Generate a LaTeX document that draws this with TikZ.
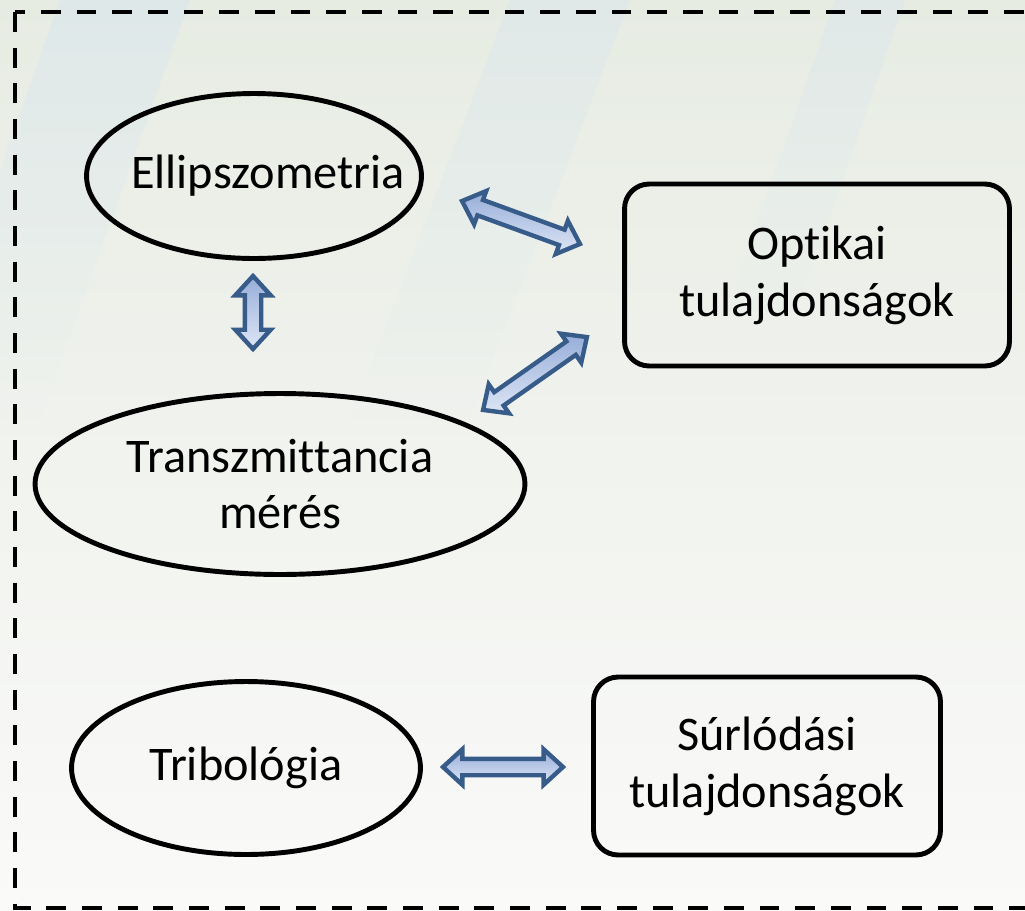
\documentclass[tikz,border=0pt]{standalone}
\usepackage{fontspec}
\setmainfont{Carlito}[Ligatures=NoCommon]
\usetikzlibrary{shapes.geometric,shapes.arrows,calc,fadings}

\definecolor{arrowline}{RGB}{56,92,138}
\definecolor{arrowdark}{RGB}{150,173,216}
\definecolor{arrowlight}{RGB}{222,230,246}
\definecolor{bgtop}{RGB}{231,236,227}
\definecolor{bgbot}{RGB}{250,250,249}
\definecolor{panel}{RGB}{212,228,243}

\tikzset{
  meas/.style={ellipse, draw, line width=2.8pt, inner sep=0pt, align=center,
    font=\fontsize{27.5}{32.3}\selectfont},
  prop/.style={rectangle, rounded corners=14pt, draw, line width=2.8pt, inner sep=0pt,
    align=center, font=\fontsize{27.5}{32.3}\selectfont},
  blockarrow/.style={double arrow, draw=arrowline, line width=2.5pt, inner xsep=0pt,
    inner ysep=0.12cm, double arrow head extend=0.19cm, double arrow tip angle=85,
    top color=arrowdark, bottom color=arrowlight}
}

% block arrow between two named points
\newcommand{\blockarrow}[2]{%
  \path let \p1=($(#2)-(#1)$) in
    node[blockarrow, rotate={atan2(\y1,\x1)}, minimum height={veclen(\x1,\y1)}]
    at ($(#1)!0.5!(#2)$) {};}

\begin{document}
\begin{tikzpicture}[x=0.02cm, y=-0.02cm]
    \useasboundingbox (0,0) rectangle (1025,910);
    \clip (0,0) rectangle (1025,910);

    % Background
    \shade[top color=bgtop, bottom color=bgbot] (0,0) rectangle (1025,910);
    \fill[panel, opacity=0.4, path fading=south] (60,0) -- (190,0) -- (40,420) -- (0,420) -- (0,170) -- cycle;
    \fill[panel, opacity=0.35, path fading=south] (510,0) -- (630,0) -- (470,420) -- (350,420) -- cycle;
    \fill[panel, opacity=0.35, path fading=south] (835,0) -- (905,0) -- (790,330) -- (720,330) -- cycle;

    % Dashed frame
    \draw[line width=2.8pt, dash pattern=on 11.3pt off 9pt] (15,12) rectangle (1050,908);

    % Measurements
    \node[meas, minimum width=6.7cm, minimum height=3.3cm] (ellipso) at (254,176)
        {\makebox[0pt]{\hspace{0.56cm}Ellipszometria}};
    \node[meas, minimum width=9.8cm, minimum height=3.62cm] (transm) at (280,484) {Transzmittancia\\mérés};
    \node[meas, minimum width=6.98cm, minimum height=3.46cm] (tribo) at (246,768) {Tribológia};

    % Properties
    \node[prop, minimum width=7.7cm, minimum height=3.64cm] (optikai) at (817,275) {Optikai\\tulajdonságok};
    \node[prop, minimum width=6.94cm, minimum height=3.56cm] (surlod) at (767,766) {Súrlódási\\tulajdonságok};

    % Arrow ends
    \coordinate (A1) at (462,201);
    \coordinate (B1) at (580,244);
    \coordinate (A2) at (253,276);
    \coordinate (B2) at (253,349);
    \coordinate (A3) at (483,410);
    \coordinate (B3) at (587,337);
    \coordinate (A4) at (443,767);
    \coordinate (B4) at (563,767);

    \blockarrow{A1}{B1}
    \blockarrow{A2}{B2}
    \blockarrow{A3}{B3}
    \blockarrow{A4}{B4}
\end{tikzpicture}
\end{document}
